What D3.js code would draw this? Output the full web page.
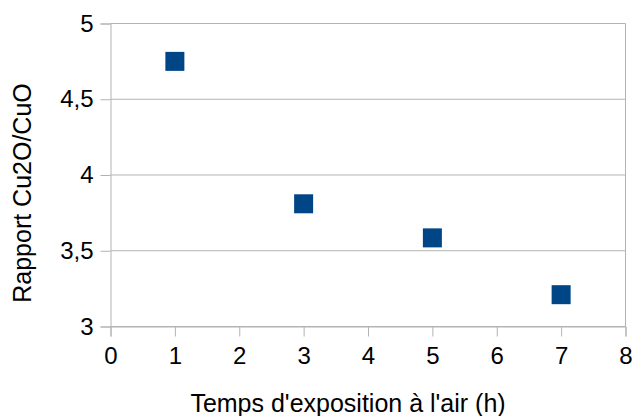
<!DOCTYPE html>
<html><head><meta charset="utf-8">
<script src="https://cdn.jsdelivr.net/npm/d3@7"></script>
<style>html,body{margin:0;padding:0;background:#fff;}svg{display:block;font-family:"Liberation Sans",Arial,sans-serif;}</style>
</head><body>
<script>
const hours = [1, 3, 5, 7];
const ratios = [4.75, 3.81, 3.585, 3.21];
const xTicks = [0, 1, 2, 3, 4, 5, 6, 7, 8];
const yTicks = [3, 3.5, 4, 4.5, 5];
const yTickLabels = ["3", "3,5", "4", "4,5", "5"];
const xTitle = "Temps d'exposition à l'air (h)";
const yTitle = "Rapport Cu2O/CuO";

const W = 633, H = 416;
const m = {left: 110.5, right: 625.5, top: 23.5, bottom: 326.5};
const svg = d3.select("body").append("svg").attr("width", W).attr("height", H);
const x = d3.scaleLinear().domain([0, 8]).range([m.left, m.right]);
const y = d3.scaleLinear().domain([3, 5]).range([m.bottom, m.top]);
const grid = "#b3b3b3";

// horizontal gridlines
svg.append("g").selectAll("line").data(yTicks).join("line")
  .attr("x1", m.left).attr("x2", m.right)
  .attr("y1", d => y(d)).attr("y2", d => y(d))
  .attr("stroke", grid).attr("stroke-width", 1);
// right border
svg.append("line").attr("x1", m.right).attr("x2", m.right).attr("y1", m.top).attr("y2", m.bottom)
  .attr("stroke", grid);

// x axis
const xAxis = svg.append("g").attr("transform", `translate(0,${m.bottom})`)
  .call(d3.axisBottom(x).tickValues(xTicks).tickSize(10).tickPadding(10).tickFormat(d3.format("d")));
// y axis
const yAxis = svg.append("g").attr("transform", `translate(${m.left},0)`)
  .call(d3.axisLeft(y).tickValues(yTicks).tickSize(10).tickPadding(7)
    .tickFormat((d, i) => yTickLabels[i]));
[xAxis, yAxis].forEach(a => {
  a.select(".domain").attr("stroke", grid).attr("stroke-width", 1);
  a.selectAll(".tick line").attr("stroke", grid);
  a.selectAll(".tick text").attr("fill", "#000").style("font-size", "24px")
    .style("font-family", "'Liberation Sans', Arial, sans-serif");
});
xAxis.selectAll(".tick text").attr("dy", "0.71em");

// markers
const s = 19;
svg.append("g").selectAll("rect").data(hours).join("rect")
  .attr("x", (d) => x(d) - s / 2)
  .attr("y", (d, i) => y(ratios[i]) - s / 2)
  .attr("width", s).attr("height", s)
  .attr("fill", "#004586");

// titles
svg.append("text").attr("x", 348).attr("y", 412).attr("text-anchor", "middle")
  .style("font-size", "25px").attr("fill", "#000").text(xTitle);
svg.append("text").attr("transform", "translate(31,193) rotate(-90)").attr("text-anchor", "middle")
  .style("font-size", "25px").attr("fill", "#000").text(yTitle);
</script>
</body></html>
